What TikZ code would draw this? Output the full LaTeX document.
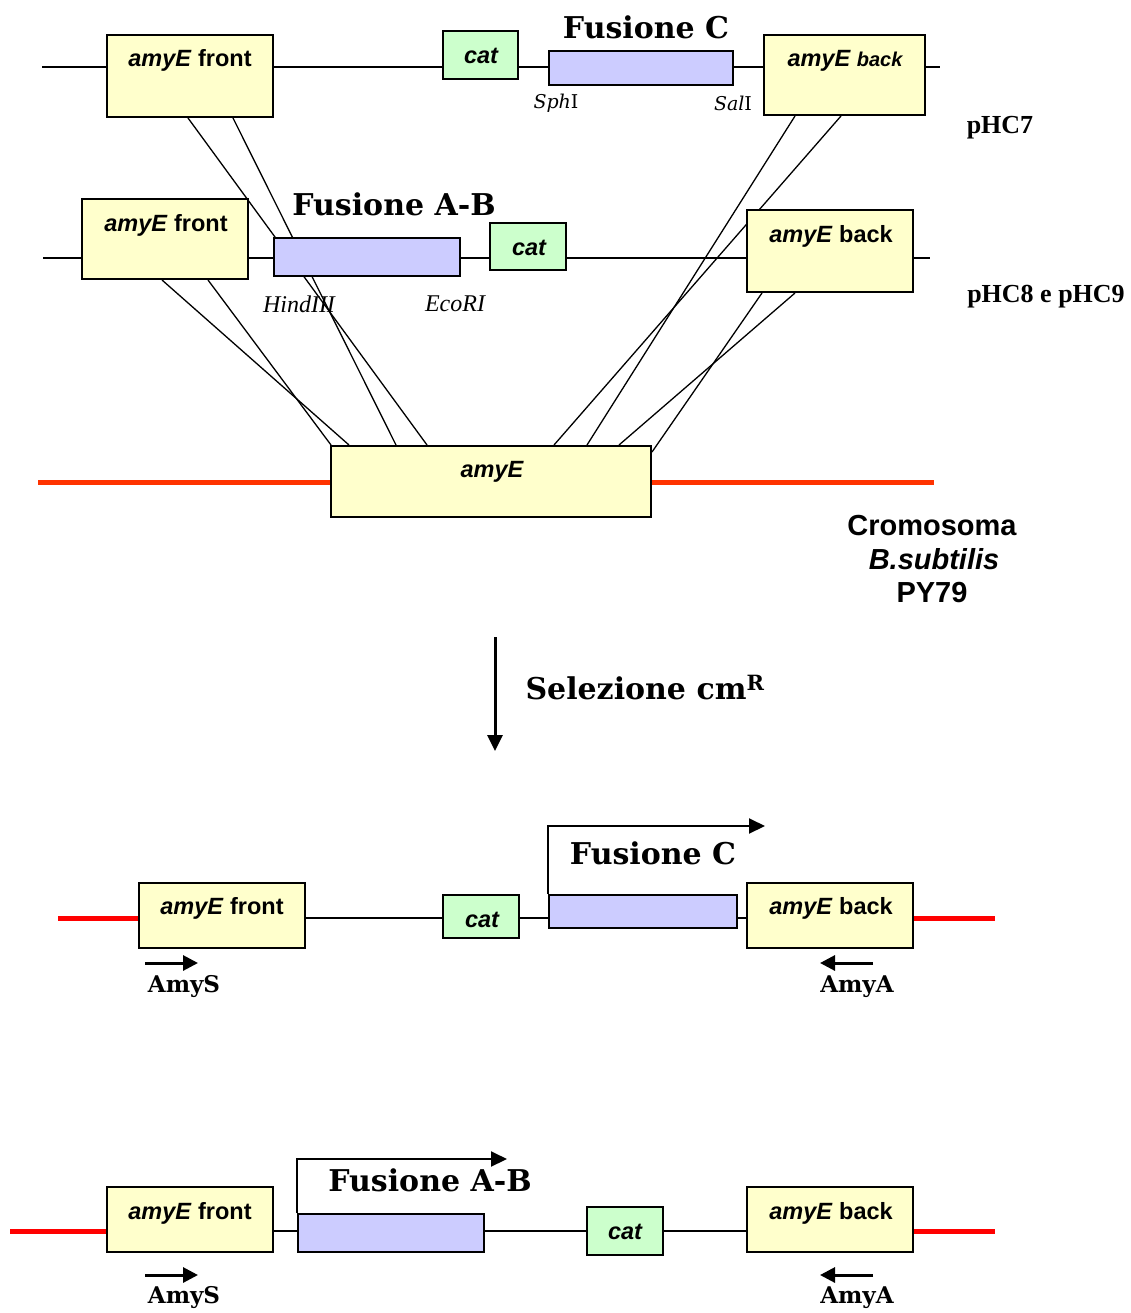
\documentclass[tikz,border=0pt]{standalone}
\usepackage{fontspec}
\setmainfont{Liberation Sans}
\newfontfamily\bk{DejaVu Serif}
\newfontfamily\tm{Liberation Serif}
\usetikzlibrary{arrows.meta}
\definecolor{yelfill}{HTML}{FFFFCC}
\definecolor{grnfill}{HTML}{CCFFCC}
\definecolor{blufill}{HTML}{CCCCFF}
\definecolor{chromo}{HTML}{FF3300}
\definecolor{redline}{HTML}{FF0000}
\tikzset{
  box/.style={draw=black, line width=2pt, inner sep=0pt, anchor=center},
  yel/.style={box, fill=yelfill},
  grn/.style={box, fill=grnfill},
  blu/.style={box, fill=blufill},
  dna/.style={line width=1.5pt, black},
  cross/.style={line width=1.3pt, black},
  chr/.style={line width=5pt, chromo},
  rchr/.style={line width=5pt, redline},
  gene/.style={font=\fontsize{23.5}{26}\selectfont\bfseries, inner sep=0pt},
  fus/.style={font=\bk\fontsize{30}{34}\selectfont\bfseries, inner sep=0pt},
  site/.style={font=\tm\fontsize{24}{26}\selectfont\itshape, inner sep=0pt},
  bsite/.style={font=\bk\fontsize{19}{22}\selectfont, inner sep=0pt},
  plas/.style={font=\tm\fontsize{26}{28}\selectfont\bfseries, inner sep=0pt},
  prim/.style={font=\bk\fontsize{23}{26}\selectfont\bfseries, inner sep=0pt},
  chrlab/.style={font=\fontsize{29}{32}\selectfont\bfseries, inner sep=0pt},
  prom/.style={line width=2pt, -{Triangle[length=16pt,width=15pt]}},
  parrow/.style={line width=3pt, -{Triangle[length=15pt,width=15pt]}},
}
\begin{document}
\begin{tikzpicture}[x=1pt,y=-1pt]
\useasboundingbox (0,0) rectangle (1131,1313);

% ---------- row 1 (pHC7)
\coordinate (r1l) at (42,67);
\coordinate (r1r) at (940,67);
\draw[dna] (r1l) -- (r1r);
% ---------- row 2 (pHC8 e pHC9)
\coordinate (r2l) at (43,258);
\coordinate (r2r) at (930,258);
\draw[dna] (r2l) -- (r2r);
% ---------- chromosome
\coordinate (chl) at (38,482);
\coordinate (chr) at (934,482);
\draw[chr] (chl) -- (chr);

% boxes (empty first to get anchors)
\node[yel, minimum width=166, minimum height=82] (f1) at (190,76) {};
\node[yel, minimum width=161, minimum height=80] (b1) at (844.5,75) {};
\node[yel, minimum width=166, minimum height=80] (f2) at (165,239) {};
\node[yel, minimum width=166, minimum height=82] (b2) at (830,251) {};
\node[yel, minimum width=320, minimum height=71] (ae) at (491,481.5) {};

% crossover lines
\draw[cross] ([xshift=82]f1.south west) -- ([xshift=97]ae.north west);
\draw[cross] ([xshift=127]f1.south west) -- ([xshift=66]ae.north west);
\draw[cross] ([xshift=81]f2.south west) -- ([xshift=19]ae.north west);
\draw[cross] ([xshift=127]f2.south west) -- ([xshift=1]ae.north west);
\draw[cross] ([xshift=32]b1.south west) -- ([xshift=257]ae.north west);
\draw[cross] ([xshift=78]b1.south west) -- ([xshift=224]ae.north west);
\draw[cross] ([xshift=49]b2.south west) -- ([xshift=289]ae.north west);
\draw[cross] ([xshift=16]b2.south west) -- ([yshift=-7]ae.north east);

% redraw boxes on top of lines
\node[yel, minimum width=166, minimum height=82] at (f1) {};
\node[yel, minimum width=161, minimum height=80] at (b1) {};
\node[yel, minimum width=166, minimum height=80] at (f2) {};
\node[yel, minimum width=166, minimum height=82] at (b2) {};
\node[yel, minimum width=320, minimum height=71] at (ae) {};

\node[grn, minimum width=75, minimum height=48] (c1) at (480.5,55) {};
\node[blu, minimum width=184, minimum height=34] (p1) at (641,68) {};
\node[blu, minimum width=186, minimum height=38] (p2) at (367,257) {};
\node[grn, minimum width=76, minimum height=47] (c2) at (528,246.5) {};

% texts row 1
\node[gene] (tf1) at (190,60) {\itshape amyE\/\upshape\ front};
\node[gene] (tc1) at (481,56) {\itshape cat};
\node[gene] (tb1) at (845,61) {\itshape amyE {\fontsize{20}{24}\selectfont back}};
\node[fus] (tfc1) at (646,27) {Fusione C};
\node[bsite] (sph) at (556,103) {\itshape Sph\upshape I};
\node[bsite] (sal) at (733,103) {\itshape Sal\upshape I};
\node[plas] (ph7) at (1000,128) {pHC7};
% texts row 2
\node[gene] (tf2) at (166,225) {\itshape amyE\/\upshape\ front};
\node[fus] (tfab) at (394,204) {Fusione A-B};
\node[gene] (tc2) at (529,248) {\itshape cat};
\node[gene] (tb2) at (831,236) {\itshape amyE\/\upshape\ back};
\node[site] (hind) at (299,304) {HindIII};
\node[site] (eco) at (455,304) {EcoRI};
\node[plas] (ph89) at (1046,297) {pHC8 e pHC9};
% chromosome texts
\node[gene] (tae) at (492,472) {\itshape amyE};
\node[chrlab] (cro1) at (932,526) {Cromosoma};
\node[chrlab] (cro2) at (934,559) {\itshape B.subtilis};
\node[chrlab] (cro3) at (932,593) {PY79};

% ---------- selection arrow
\coordinate (sa1) at (495,637);
\coordinate (sa2) at (495,751);
\draw[line width=3pt, -{Triangle[length=16pt,width=15pt]}] (sa1) -- (sa2);
\node[fus] (sel) at (645,688) {Selezione cm\textsuperscript{R}};

% ---------- row 3
\coordinate (r3a) at (58,918);
\coordinate (r3b) at (995,918);
\node[yel, minimum width=166, minimum height=65] (f3) at (222,915.5) {};
\node[grn, minimum width=76, minimum height=43] (c3) at (481,916.5) {};
\node[blu, minimum width=188, minimum height=33] (p3) at (643,911.5) {};
\node[yel, minimum width=166, minimum height=65] (b3) at (830,915.5) {};
\draw[rchr] (r3a) -- (f3.west |- r3a);
\draw[rchr] (b3.east |- r3b) -- (r3b);
\draw[dna] (f3.east |- r3a) -- (c3.west |- r3a);
\draw[dna] (c3.east |- r3a) -- (p3.west |- r3a);
\draw[dna] (p3.east |- r3a) -- (b3.west |- r3a);
\coordinate (pr3) at (765,826);
\draw[prom] (p3.north west) |- (pr3);
\node[gene] (tf3) at (222,908) {\itshape amyE\/\upshape\ front};
\node[gene] (tc3) at (482,920) {\itshape cat};
\node[gene] (tb3) at (831,908) {\itshape amyE\/\upshape\ back};
\node[fus] (tfc3) at (653,853) {Fusione C};
\coordinate (as3a) at (145,963);
\coordinate (as3b) at (198,963);
\draw[parrow] (as3a) -- (as3b);
\node[prim] (amys3) at (184,987) {AmyS};
\coordinate (aa3a) at (873,963);
\coordinate (aa3b) at (820,963);
\draw[parrow] (aa3a) -- (aa3b);
\node[prim] (amya3) at (857,987) {AmyA};

% ---------- row 4
\coordinate (r4a) at (10,1231);
\coordinate (r4b) at (995,1231);
\node[yel, minimum width=166, minimum height=65] (f4) at (190,1219.5) {};
\node[blu, minimum width=186, minimum height=38] (p4) at (391,1233) {};
\node[grn, minimum width=76, minimum height=48] (c4) at (625,1231) {};
\node[yel, minimum width=166, minimum height=65] (b4) at (830,1219.5) {};
\draw[rchr] (r4a) -- (f4.west |- r4a);
\draw[rchr] (b4.east |- r4b) -- (r4b);
\draw[dna] (f4.east |- r4a) -- (p4.west |- r4a);
\draw[dna] (p4.east |- r4a) -- (c4.west |- r4a);
\draw[dna] (c4.east |- r4a) -- (b4.west |- r4a);
\coordinate (pr4) at (507,1159);
\draw[prom] (p4.north west) |- (pr4);
\node[gene] (tf4) at (190,1213) {\itshape amyE\/\upshape\ front};
\node[gene] (tc4) at (625,1232) {\itshape cat};
\node[gene] (tb4) at (831,1213) {\itshape amyE\/\upshape\ back};
\node[fus] (tfab4) at (430,1180) {Fusione A-B};
\coordinate (as4a) at (145,1275);
\coordinate (as4b) at (198,1275);
\draw[parrow] (as4a) -- (as4b);
\node[prim] (amys4) at (184,1298) {AmyS};
\coordinate (aa4a) at (873,1275);
\coordinate (aa4b) at (820,1275);
\draw[parrow] (aa4a) -- (aa4b);
\node[prim] (amya4) at (857,1298) {AmyA};
\end{tikzpicture}
\end{document}
